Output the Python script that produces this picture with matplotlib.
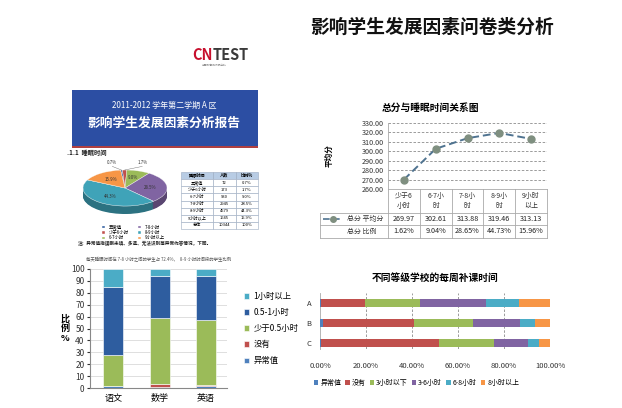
import numpy as np
import matplotlib.pyplot as plt
from matplotlib.patches import Rectangle

plt.rcParams['font.family'] = ['Noto Sans CJK SC', 'DejaVu Sans']

W, H = 622, 408

# ---- data ----
sleep_cats = ['异常值', '少于6小时', '6-7小时', '7-8小时', '8-9小时', '9小时以上']
sleep_count = [72, 173, 930, 2945, 4579, 1645]
sleep_colors = ['#2E5D9F', '#C0504D', '#9BBB59', '#8064A2', '#3FA3B8', '#F79646']

line_cats = ['少于6\n小时', '6-7小\n时', '7-8小\n时', '8-9小\n时', '9小时\n以上']
avg_score = [269.97, 302.61, 313.88, 319.46, 313.13]
score_ratio = ['1.62%', '9.04%', '28.65%', '44.73%', '15.96%']

subjects = ['语文', '数学', '英语']
hw_cats = ['异常值', '没有', '少于0.5小时', '0.5-1小时', '1小时以上']
hw_abnormal = [1.5, 0.5, 2.0]
hw_none = [0.5, 2.5, 0.8]
hw_lt_half = [25.5, 55.5, 54.5]
hw_half_one = [57.5, 35.5, 36.7]
hw_over_one = [15.0, 6.0, 6.0]
hw_colors = ['#4F81BD', '#C0504D', '#9BBB59', '#2E5D9F', '#4BACC6']

schools = ['A', 'B', 'C']
wk_cats = ['异常值', '没有', '3小时以下', '3-6小时', '6-8小时', '8小时以上']
wk_abnormal = [0.3, 1.4, 0.3]
wk_none = [19.4, 39.6, 51.6]
wk_lt3 = [23.6, 25.7, 23.9]
wk_3_6 = [29.0, 20.3, 14.5]
wk_6_8 = [14.3, 6.6, 4.9]
wk_gt8 = [13.4, 6.4, 4.8]
wk_colors = ['#4F81BD', '#C0504D', '#9BBB59', '#8064A2', '#4BACC6', '#F79646']


def box(x0, y0, x1, y1):
    # pixel box measured from top-left -> figure fraction
    return [x0 / W, 1 - y1 / H, (x1 - x0) / W, (y1 - y0) / H]


fig = plt.figure(figsize=(6.22, 4.08), dpi=100)
fig.patch.set_facecolor('white')

# ---- decoration layer (pixel coords) ----
deco = fig.add_axes([0, 0, 1, 1])
deco.set_xlim(0, W)
deco.set_ylim(H, 0)
deco.axis('off')
deco.set_zorder(-1)

deco.text(432, 27, '影响学生发展因素问卷类分析', fontsize=13.5, fontweight='bold',
          ha='center', va='center', color='#111111')

t_cn = deco.text(192, 60, 'CN', fontsize=10.5, fontweight='bold', color='#C8102E',
                 ha='left', va='baseline')
deco.annotate('TEST', xy=(1, 0), xycoords=t_cn, fontsize=10.5, fontweight='bold',
              color='#3A3A3A', va='bottom', ha='left')
deco.text(214, 64.5, '中国教育测试研究院', fontsize=2.0, color='#888888', ha='center', va='center')

deco.add_patch(Rectangle((72, 90), 186, 58, facecolor='#2C4EA3', edgecolor='none'))
deco.add_patch(Rectangle((72, 146), 186, 2, facecolor='#B04040', edgecolor='none'))
deco.text(164, 105, '2011-2012 学年第二学期 A 区', fontsize=5.8, color='white',
          ha='center', va='center')
deco.text(164, 123, '影响学生发展因素分析报告', fontsize=9.2, fontweight='bold',
          color='white', ha='center', va='center')
deco.text(67, 152, '.1.1  睡眠时间', fontsize=4.5, fontweight='bold', color='#222222',
          ha='left', va='center')
deco.text(78, 244, '注：异常值指误删未填、多选、无法识别等异常作答情况，下同。',
          fontsize=3.3, fontweight='bold', color='#222222', ha='left', va='center')
deco.text(86, 260, '每天睡眠时间在 7-8 小时之间的学生占 72.4%，  8-9 小时时间段的学生比例',
          fontsize=3.2, color='#555555', ha='left', va='center')

# ---- 3D-ish pie ----
axp = fig.add_axes(box(83, 170, 167, 214))
depth = 0.44
startang = 96
dark = []
for c in sleep_colors:
    rgb = np.array(plt.matplotlib.colors.to_rgb(c)) * 0.7
    dark.append(rgb)
for k in np.linspace(depth, 0.02, 12):
    axp.pie(sleep_count, colors=dark, startangle=startang, counterclock=False,
            center=(0, -k), radius=1)
wedges, _ = axp.pie(sleep_count, colors=sleep_colors, startangle=startang,
                    counterclock=False, radius=1,
                    wedgeprops=dict(edgecolor='white', linewidth=0.3))
axp.set_aspect('auto')
axp.set_xlim(-1, 1)
axp.set_ylim(-1 - depth, 1)
total = sum(sleep_count)
small_dx = [-0.22, 0.42]
si = 0
for w, n in zip(wedges, sleep_count):
    ang = np.deg2rad((w.theta1 + w.theta2) / 2)
    pct = n / total * 100
    if pct > 5:
        axp.text(0.6 * np.cos(ang), 0.6 * np.sin(ang), f'{pct:.1f}%', fontsize=3.2,
                 ha='center', va='center', color='#333333')
    else:
        ex, ey = np.cos(ang), np.sin(ang)
        tx, ty = ex + small_dx[si], 1.3
        axp.plot([ex, tx], [ey, ty - 0.1], color='#666666', linewidth=0.3, clip_on=False)
        axp.text(tx, ty, f'{pct:.1f}%', fontsize=3.2, ha='center', va='bottom',
                 color='#333333', clip_on=False)
        si += 1
axp.legend(wedges, sleep_cats, ncol=2, fontsize=3.2, frameon=False,
           loc='upper center', bbox_to_anchor=(0.6, -0.18),
           handlelength=0.8, handleheight=0.5, columnspacing=2.0,
           labelspacing=0.1, borderpad=0.1)

# ---- small table ----
axt = fig.add_axes(box(181, 172, 258, 229))
axt.axis('off')
tab_rows = [['睡眠时间', '人数', '比例%']]
for c, n in zip(sleep_cats, sleep_count):
    tab_rows.append([c, str(n), f'{n / total * 100:.1f}%'])
tab_rows.append(['总体', str(total), '100%'])
tb = axt.table(cellText=tab_rows, bbox=[0, 0, 1, 1], cellLoc='center',
               colWidths=[0.42, 0.29, 0.29])
tb.auto_set_font_size(False)
for (r, cidx), cell in tb.get_celld().items():
    cell.set_fontsize(3.0)
    cell.set_edgecolor('#9AA9BF')
    cell.set_linewidth(0.4)
    if r == 0:
        cell.set_facecolor('#B8CCE4')
        cell.get_text().set_fontweight('bold')

# ---- line chart: score vs sleep ----
axl = fig.add_axes(box(388, 123, 547, 189))
x = np.arange(len(avg_score))
axl.plot(x, avg_score, linestyle=(0, (4, 2)), color='#4F7390', linewidth=1.4,
         marker='o', markersize=5, markerfacecolor='#7F8F80', markeredgecolor='#7F8F80')
axl.set_xlim(-0.5, 4.5)
axl.set_ylim(260, 330)
yt = np.arange(260, 331, 10)
axl.set_yticks(yt)
axl.set_yticklabels([f'{v:.2f}' for v in yt], fontsize=5.2, color='#333333')
axl.set_xticks([])
axl.tick_params(axis='y', length=0, pad=3)
for v in yt[1:]:
    axl.axhline(v, color='#8C8C8C', linestyle=(0, (3, 2)), linewidth=0.6, zorder=0)
for s in ['top', 'right', 'bottom']:
    axl.spines[s].set_visible(False)
axl.spines['left'].set_color('#AAAAAA')
axl.spines['left'].set_linewidth(0.6)
axl.set_ylabel('平均分', fontsize=5.5, fontweight='bold', labelpad=20)
axl.set_title('总分与睡眠时间关系图', fontsize=7, fontweight='bold', pad=9, x=0.27)

# data table under the line chart
tr = axl.get_xaxis_transform()
r0, r1, r2, r3 = 0.0, -0.364, -0.545, -0.742
xl = -2.64
lkw = dict(color='#AAAAAA', linewidth=0.6, transform=tr, clip_on=False)
axl.plot([-0.5, 4.5], [r0, r0], **lkw)
for yy in (r1, r2, r3):
    axl.plot([xl, 4.5], [yy, yy], **lkw)
for i in range(len(avg_score) + 1):
    axl.plot([i - 0.5, i - 0.5], [r0, r3], **lkw)
axl.plot([xl, xl], [r1, r3], **lkw)
for i, (c, v, p) in enumerate(zip(line_cats, avg_score, score_ratio)):
    axl.text(i, (r0 + r1) / 2, c, transform=tr, fontsize=5, ha='center', va='center',
             color='#333333', linespacing=1.3)
    axl.text(i, (r1 + r2) / 2, f'{v:.2f}', transform=tr, fontsize=5.2, ha='center',
             va='center', color='#222222')
    axl.text(i, (r2 + r3) / 2, p, transform=tr, fontsize=5.2, ha='center',
             va='center', color='#222222')
axl.plot([-2.54, -1.95], [(r1 + r2) / 2] * 2, linestyle=(0, (4, 2)), color='#4F7390',
         linewidth=1.2, transform=tr, clip_on=False)
axl.plot([-2.245], [(r1 + r2) / 2], marker='o', markersize=4, color='#7F8F80',
         transform=tr, clip_on=False)
axl.text(-1.79, (r1 + r2) / 2, '总分 平均分', transform=tr, fontsize=5, ha='left',
         va='center', color='#333333')
axl.text(-1.79, (r2 + r3) / 2, '总分 比例', transform=tr, fontsize=5, ha='left',
         va='center', color='#333333')

# ---- stacked column: homework time by subject ----
axb = fig.add_axes(box(90, 269, 227, 388))
xb = np.arange(len(subjects))
hw_series = [hw_abnormal, hw_none, hw_lt_half, hw_half_one, hw_over_one]
bottom = np.zeros(len(subjects))
hw_bars = []
for vals, col in zip(hw_series, hw_colors):
    b = axb.bar(xb, vals, bottom=bottom, width=0.43, color=col,
                edgecolor='white', linewidth=0.4, zorder=3)
    hw_bars.append(b)
    bottom += np.array(vals)
axb.set_xlim(-0.5, 2.45)
axb.set_ylim(0, 100)
axb.set_yticks(np.arange(0, 101, 10))
axb.tick_params(axis='y', labelsize=6, length=2, pad=2, colors='#333333')
axb.tick_params(axis='x', labelsize=6.5, length=0, pad=4)
axb.set_xticks(xb)
axb.set_xticklabels(subjects)
axb.grid(axis='y', color='#D9D9D9', linewidth=0.6, zorder=0)
for s in ['top', 'right']:
    axb.spines[s].set_visible(False)
axb.spines['left'].set_color('#888888')
axb.spines['bottom'].set_color('#888888')
axb.set_ylabel('比\n例\n%', fontsize=6.5, fontweight='bold', rotation=0,
               labelpad=4, va='center', linespacing=1.1)
axb.legend(hw_bars[::-1], hw_cats[::-1], loc='center left', bbox_to_anchor=(1.07, 0.5),
           fontsize=6, frameon=False, handlelength=0.6, handleheight=0.6,
           labelspacing=0.85, handletextpad=0.5)

# ---- stacked bar: weekly tutoring by school level ----
axh = fig.add_axes(box(320, 293, 550, 349))
yh = np.arange(len(schools))
wk_series = [wk_abnormal, wk_none, wk_lt3, wk_3_6, wk_6_8, wk_gt8]
left = np.zeros(len(schools))
wk_bars = []
for vals, col in zip(wk_series, wk_colors):
    b = axh.barh(yh, np.array(vals) / 100, left=left, height=0.4, color=col, zorder=3)
    wk_bars.append(b)
    left += np.array(vals) / 100
axh.set_ylim(2.3, -0.5)
axh.set_xlim(0, 1.0)
axh.set_yticks(yh)
axh.set_yticklabels(schools)
xt = np.arange(0, 1.01, 0.2)
axh.set_xticks(xt)
axh.set_xticklabels([f'{v * 100:.2f}%' for v in xt])
axh.tick_params(axis='x', labelsize=5.5, length=0, pad=9, colors='#333333')
axh.tick_params(axis='y', labelsize=5.5, length=0, pad=6, colors='#333333')
for v in xt[1:]:
    axh.axvline(v, color='#8C8C8C', linestyle=(0, (3, 2)), linewidth=0.6, zorder=0)
for s in ['top', 'right', 'bottom']:
    axh.spines[s].set_visible(False)
axh.spines['left'].set_color('#AAAAAA')
axh.spines['left'].set_linewidth(0.6)
axh.set_title('不同等级学校的每周补课时间', fontsize=7, fontweight='bold', pad=9, x=0.5)
axh.legend(wk_bars, wk_cats, ncol=6, loc='upper center', bbox_to_anchor=(0.42, -0.42),
           fontsize=5, frameon=False, handlelength=0.6, handleheight=0.6,
           columnspacing=0.6, handletextpad=0.3)

fig.savefig('out.png', dpi=100)
